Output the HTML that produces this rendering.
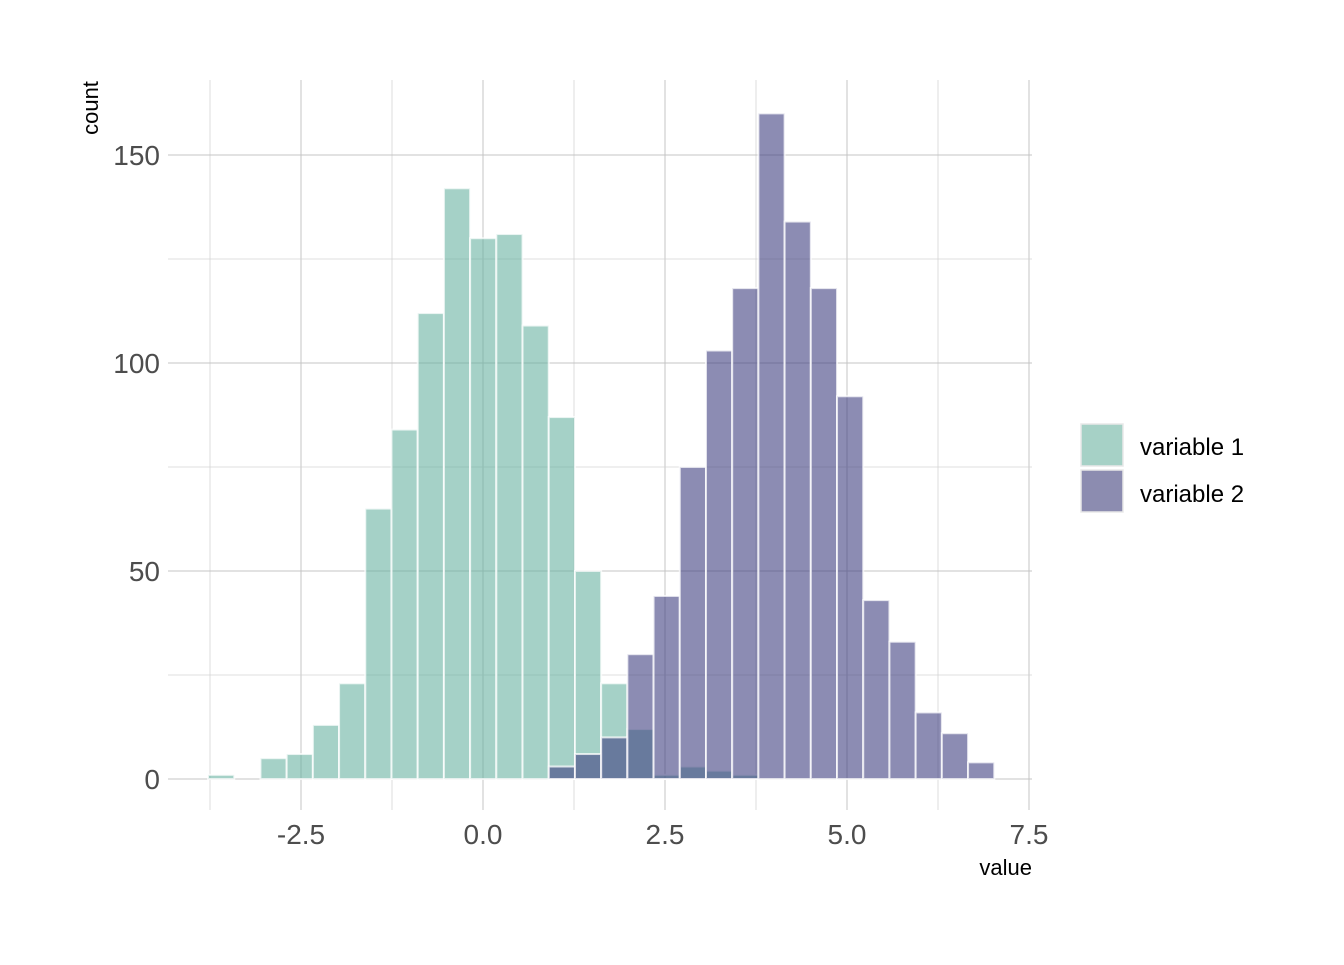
<!DOCTYPE html>
<html><head><meta charset="utf-8"><style>
html,body{margin:0;padding:0;background:#fff}
svg text{font-family:"Liberation Sans",Arial,sans-serif}
</style></head><body>
<svg id="chart" width="1344" height="960" xmlns="http://www.w3.org/2000/svg">
<g id="grid"></g>
<g id="bars"></g>
<g id="axes"></g>
<text transform="translate(98,108) rotate(-90)" text-anchor="middle" font-size="22" fill="#000">count</text>
<text x="1032" y="875" text-anchor="end" font-size="22" fill="#000">value</text>
<g>
<rect x="1081" y="424" width="42" height="42" fill="#a6d1c6" stroke="#e8e8e8" stroke-width="1.5"/>
<text x="1140" y="455" font-size="24" fill="#000">variable 1</text>
<rect x="1081" y="470" width="42" height="42" fill="#8c8cb0" stroke="#e8e8e8" stroke-width="1.5"/>
<text x="1140" y="502" font-size="24" fill="#000">variable 2</text>
</g>
</svg>
<script>
const binStart = -3.777;
const binWidth = 0.36;
const var1Counts = [1,0,5,6,13,23,65,84,112,142,130,131,109,87,50,23,12,1,3,2,1,0,0,0,0,0,0,0,0,0];
const var2Counts = [0,0,0,0,0,0,0,0,0,0,0,0,0,3,6,10,30,44,75,103,118,160,134,118,92,43,33,16,11,4];
const xTicks = [-2.5,0,2.5,5,7.5];
const xTickLabels = ["-2.5","0.0","2.5","5.0","7.5"];
const yTicks = [0,50,100,150];
const yTickLabels = ["0","50","100","150"];

const NS="http://www.w3.org/2000/svg";
const xs = v => 483 + v*72.8;
const ys = v => 779 - v*4.16;
function mk(tag, attrs, parent){const e=document.createElementNS(NS,tag);for(const k in attrs)e.setAttribute(k,attrs[k]);parent.appendChild(e);return e;}
const grid=document.getElementById('grid'), bars=document.getElementById('bars'), axes=document.getElementById('axes');
const px0=168, px1=1032, py0=80, py1=810;
for(let i=0;i<xTicks.length;i++){
  const l=mk('line',{x1:xs(xTicks[i]),x2:xs(xTicks[i]),y1:py0,y2:py1,stroke:'#c4c4c4','stroke-width':1},grid);
  
  
  if(i<xTicks.length-1){
    const mv=(xTicks[i]+xTicks[i+1])/2;
    const m=mk('line',{x1:xs(mv),x2:xs(mv),y1:py0,y2:py1,stroke:'#d4d4d4','stroke-width':0.8},grid);
    
    
  }
  const t=mk('text',{x:xs(xTicks[i]),y:844,'text-anchor':'middle','font-size':28,fill:'#4d4d4d'},axes);
  t.textContent=xTickLabels[i];
  
  
}
{const mv=xTicks[0]-1.25;const m=mk('line',{x1:xs(mv),x2:xs(mv),y1:py0,y2:py1,stroke:'#d4d4d4','stroke-width':0.8},grid);

}
for(let i=0;i<yTicks.length;i++){
  const l=mk('line',{x1:px0,x2:px1,y1:ys(yTicks[i]),y2:ys(yTicks[i]),stroke:'#c4c4c4','stroke-width':1},grid);
  
  
  if(i<yTicks.length-1){
    const mv=yTicks[i]+25;
    const m=mk('line',{x1:px0,x2:px1,y1:ys(mv),y2:ys(mv),stroke:'#d4d4d4','stroke-width':0.8},grid);
    
    
  }
  const t=mk('text',{x:160,y:ys(yTicks[i])+10,'text-anchor':'end','font-size':28,fill:'#4d4d4d'},axes);
  t.textContent=yTickLabels[i];
  
  
}
function drawSeries(counts,color,name){
  counts.forEach((c,i)=>{
    if(c<=0)return;
    const x0=xs(binStart+i*binWidth), x1=xs(binStart+(i+1)*binWidth);
    const r=mk('rect',{x:x0,y:ys(c),width:x1-x0,height:ys(0)-ys(c),fill:color,'fill-opacity':0.6,stroke:'#ffffff','stroke-opacity':0.75,'stroke-width':2},bars);
    
    
  });
}
drawSeries(var1Counts,'#69b3a2','bar-variable-1');
drawSeries(var2Counts,'#404080','bar-variable-2');
</script>
</body></html>
